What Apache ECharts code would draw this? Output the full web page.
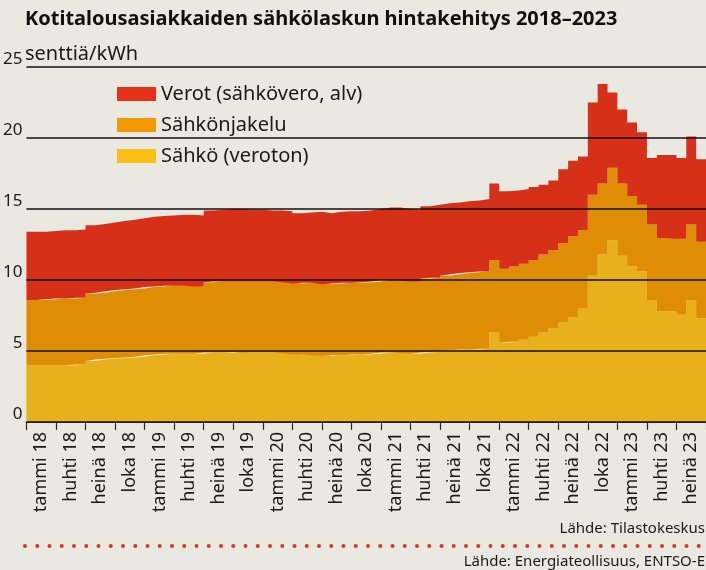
<!DOCTYPE html>
<html>
<head>
<meta charset="UTF-8">
<title>Sähkölaskun hintakehitys</title>
<script src="https://cdn.jsdelivr.net/npm/echarts@6.0.0/dist/echarts.min.js"></script>
<style>
  html, body { margin: 0; padding: 0; background: #e9e8e1; }
</style>
</head>
<body>
<div id="main" style="width: 706px; height: 570px;"></div>
<script>
// neljännesvuosien nimet x-akselille
const quarterLabels = [
  'tammi 18', 'huhti 18', 'heinä 18', 'loka 18',
  'tammi 19', 'huhti 19', 'heinä 19', 'loka 19',
  'tammi 20', 'huhti 20', 'heinä 20', 'loka 20',
  'tammi 21', 'huhti 21', 'heinä 21', 'loka 21',
  'tammi 22', 'huhti 22', 'heinä 22', 'loka 22',
  'tammi 23', 'huhti 23', 'heinä 23'
];
const monthNames = ['tammi', 'helmi', 'maalis', 'huhti', 'touko', 'kesä',
  'heinä', 'elo', 'syys', 'loka', 'marras', 'joulu'];
const months = [];
for (let y = 18; y <= 23; y++) {
  for (const m of monthNames) months.push(m + ' ' + y);
}
months.length = 70; // tammi 18 - syys 23, + loppureuna (loka 23)

const yTicks = [0, 5, 10, 15, 20, 25];

// senttiä/kWh kuukausittain
const energy = [
  4.0, 4.0, 4.0, 4.0, 4.0, 4.05, 4.3, 4.4, 4.45, 4.5, 4.55, 4.6,
  4.7, 4.75, 4.8, 4.8, 4.8, 4.8, 4.9, 4.9, 4.9, 4.95, 4.9, 4.9,
  4.9, 4.9, 4.85, 4.75, 4.75, 4.7, 4.65, 4.7, 4.7, 4.75, 4.75, 4.8,
  4.9, 4.9, 4.85, 4.8, 4.9, 4.95, 5.0, 5.05, 5.1, 5.1, 5.15, 6.3,
  5.6, 5.65, 5.8, 6.0, 6.3, 6.6, 7.0, 7.4, 8.0, 10.3, 11.8, 12.8,
  11.7, 10.95, 10.6, 8.6, 7.8, 7.8, 7.55, 8.6, 7.3
];
const distribution = [
  4.6, 4.6, 4.65, 4.7, 4.7, 4.7, 4.75, 4.7, 4.75, 4.8, 4.8, 4.8,
  4.8, 4.8, 4.8, 4.8, 4.8, 4.75, 4.95, 5.0, 5.0, 4.95, 5.0, 5.0,
  5.0, 5.0, 5.0, 5.0, 5.05, 5.1, 5.05, 5.05, 5.1, 5.05, 5.1, 5.1,
  5.1, 5.1, 5.1, 5.1, 5.2, 5.2, 5.3, 5.35, 5.4, 5.45, 5.45, 5.1,
  5.2, 5.3, 5.35, 5.4, 5.5, 5.5, 5.6, 5.7, 5.5, 5.7, 5.0, 5.1,
  5.1, 4.95, 4.7, 5.3, 5.15, 5.15, 5.35, 5.3, 5.4
];
const taxes = [
  4.8, 4.8, 4.8, 4.8, 4.8, 4.8, 4.8, 4.85, 4.85, 4.85, 4.9, 4.95,
  4.95, 4.95, 4.95, 5.0, 5.0, 5.0, 5.05, 5.05, 5.1, 5.1, 5.05, 5.05,
  5.0, 5.0, 5.0, 4.95, 4.95, 5.0, 5.0, 5.05, 5.05, 5.05, 5.05, 5.1,
  5.1, 5.1, 5.05, 5.05, 5.1, 5.15, 5.1, 5.05, 5.05, 5.05, 5.1, 5.4,
  5.45, 5.35, 5.25, 5.15, 4.9, 4.9, 5.2, 5.3, 5.2, 6.5, 7.0, 5.3,
  5.2, 5.2, 5.1, 4.7, 5.85, 5.85, 5.7, 6.2, 5.8
];

const seriesNames = ['Sähkö (veroton)', 'Sähkönjakelu', 'Verot (sähkövero, alv)'];
const areaColors = ['#e8b01a', '#e08d06', '#d63118'];
const legendColors = ['#fbbf16', '#f39a00', '#e53218'];
const font = 'Noto Sans';

const chart = echarts.init(document.getElementById('main'));

// porrasalue: viimeinen kuukausi toistetaan, jotta porras ulottuu oikeaan reunaan
function stepSeries(i, data) {
  return {
    name: seriesNames[i],
    type: 'line',
    stack: 'hinta',
    step: 'end',
    silent: true,
    showSymbol: false,
    color: legendColors[i],
    lineStyle: { width: 0 },
    areaStyle: { color: areaColors[i], opacity: 1 },
    data: data.concat(data[data.length - 1])
  };
}

const option = {
  backgroundColor: '#e9e8e1',
  animation: false,
  textStyle: { fontFamily: font },
  title: {
    text: 'Kotitalousasiakkaiden sähkölaskun hintakehitys 2018–2023',
    left: 20,
    top: 4,
    textStyle: { fontFamily: font, fontSize: 20, fontWeight: 'bold', color: '#111' }
  },
  legend: {
    orient: 'vertical',
    left: 112,
    top: 79,
    itemWidth: 39,
    itemHeight: 14,
    itemGap: 11,
    icon: 'rect',
    textStyle: { fontFamily: font, fontSize: 20, color: '#1a1a1a', lineHeight: 20 },
    data: [2, 1, 0].map(i => ({ name: seriesNames[i], itemStyle: { color: legendColors[i] } }))
  },
  grid: { left: 25, right: 0, top: 67, bottom: 148 },
  xAxis: [
    {
      type: 'category',
      data: months,
      boundaryGap: false,
      show: false
    },
    {
      type: 'category',
      data: quarterLabels,
      position: 'bottom',
      boundaryGap: true,
      axisLine: { show: true, lineStyle: { color: '#2a2a2a', width: 1.5 } },
      axisTick: { show: true, length: 8, lineStyle: { color: '#2a2a2a', width: 1.2 } },
      axisLabel: {
        rotate: 90,
        interval: 0,
        margin: 10,
        fontFamily: font,
        fontSize: 18,
        color: '#1a1a1a'
      }
    }
  ],
  yAxis: {
    type: 'value',
    min: yTicks[0],
    max: yTicks[yTicks.length - 1],
    interval: 5,
    z: 5,
    axisLine: { show: false },
    axisTick: { show: false },
    axisLabel: {
      margin: 4,
      fontFamily: font,
      fontSize: 17,
      color: '#1a1a1a',
      verticalAlign: 'bottom',
      lineHeight: 16
    },
    splitLine: { lineStyle: { color: '#111', width: 1.5 } }
  },
  graphic: [
    {
      type: 'text',
      left: 25,
      top: 44,
      style: { text: 'senttiä/kWh', font: '20px "Noto Sans"', fill: '#1a1a1a' }
    },
    {
      type: 'text',
      right: 1,
      top: 521,
      style: { text: 'Lähde: Tilastokeskus', font: '15px "Noto Sans"', fill: '#1a1a1a' }
    },
    {
      type: 'line',
      shape: { x1: 25, y1: 546, x2: 705, y2: 546 },
      style: { stroke: '#e5321a', lineWidth: 4, lineCap: 'round', lineDash: [0, 12.25] }
    },
    {
      type: 'text',
      right: 1,
      top: 554,
      style: { text: 'Lähde: Energiateollisuus, ENTSO-E', font: '15px "Noto Sans"', fill: '#1a1a1a' }
    }
  ],
  series: [
    stepSeries(0, energy),
    stepSeries(1, distribution),
    stepSeries(2, taxes)
  ]
};

chart.setOption(option);
</script>
</body>
</html>
